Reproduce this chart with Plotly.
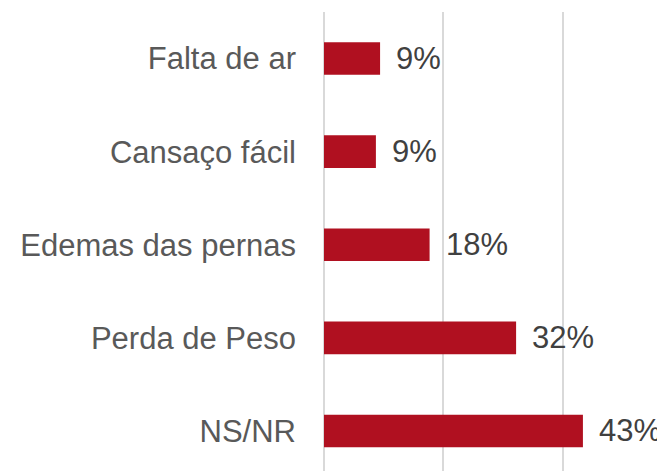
import plotly.graph_objects as go

categories = ["Falta de ar", "Cansaço fácil", "Edemas das pernas", "Perda de Peso", "NS/NR"]
values = [9.4, 8.7, 17.7, 32.2, 43.4]
labels = ["9%", "9%", "18%", "32%", "43%"]

bar_color = "#B01020"
fig = go.Figure()
fig.add_trace(go.Bar(
    y=categories, x=values, orientation="h",
    marker=dict(color=bar_color, line=dict(width=0)),
    hoverinfo="skip",
))
for c, v, t in zip(categories, values, labels):
    fig.add_annotation(x=v, y=c, text=t, showarrow=False, xanchor="left",
                       yanchor="middle", xshift=14,
                       font=dict(family="Liberation Sans, Arial", size=31, color="#404040"))

fig.update_layout(
    width=665, height=471,
    margin=dict(l=316, r=0, t=4, b=0),
    paper_bgcolor="white", plot_bgcolor="white",
    bargap=0.65, showlegend=False,
    font=dict(family="Liberation Sans, Arial", size=31, color="#595959"),
)
fig.update_xaxes(range=[0, 58.5], tickvals=[0, 20, 40], showticklabels=False,
                 showgrid=True, gridcolor="#D9D9D9", gridwidth=1.5,
                 zeroline=True, zerolinecolor="#D9D9D9", zerolinewidth=1.5,
                 showline=False, fixedrange=True)
fig.update_yaxes(categoryorder="array", categoryarray=categories,
                 range=[4.516, -0.5], showgrid=False, zeroline=False, showline=False,
                 ticks="", ticklabelstandoff=27,
                 tickfont=dict(family="Liberation Sans, Arial", size=31, color="#595959"),
                 fixedrange=True)
fig.write_html("out.html", config={"displayModeBar": False})
